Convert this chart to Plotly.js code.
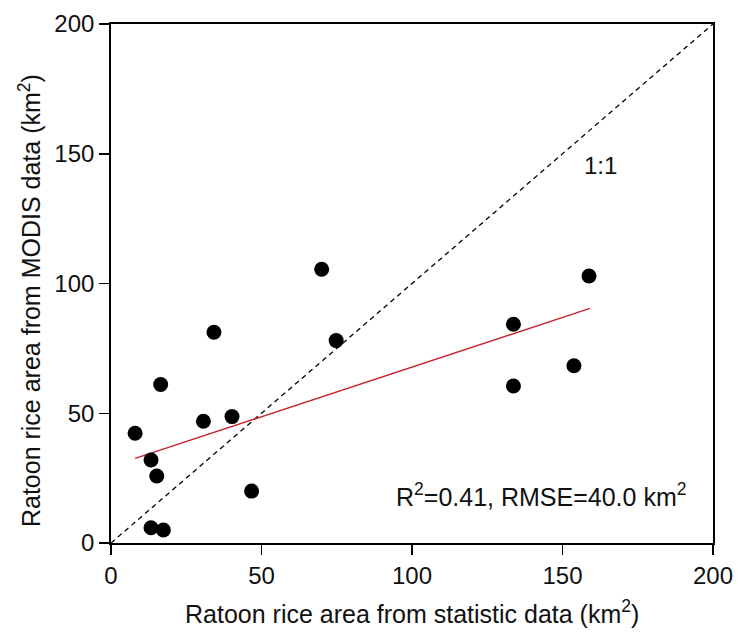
<!DOCTYPE html>
<html>
<head>
<meta charset="utf-8">
<script src="https://cdn.plot.ly/plotly-3.0.1.min.js"></script>
<style>html,body{margin:0;padding:0;background:#fff;}#chart{width:738px;height:633px;}</style>
</head>
<body>
<div id="chart"></div>
<script>
var statArea = [70.0, 158.8, 133.7, 153.8, 133.7, 34.2, 74.8, 16.5, 30.7, 40.2, 8.0, 13.3, 15.2, 46.7, 13.3, 17.4];
var modisArea = [105.5, 102.9, 84.3, 68.3, 60.5, 81.2, 78.0, 61.1, 46.9, 48.7, 42.3, 32.0, 25.8, 20.0, 5.9, 5.0];
var fitX = [8.0, 159.1];
var fitY = [32.6, 90.4];
var oneToOneX = [0, 200];
var oneToOneY = [0, 200];
var tickVals = [0, 50, 100, 150, 200];

var font = "'Liberation Sans', Arial, sans-serif";

var traces = [
  {x: oneToOneX, y: oneToOneY, mode: 'lines', line: {color: '#000', width: 1.3, dash: '5px,4px'}, hoverinfo: 'skip'},
  {x: fitX, y: fitY, mode: 'lines', line: {color: '#c8202e', width: 1.4}, hoverinfo: 'skip'},
  {x: statArea, y: modisArea, mode: 'markers', marker: {color: '#000', size: 15}}
];

var axisBase = {
  range: [0, 200], tickvals: tickVals, ticks: 'outside', ticklen: 10, tickwidth: 1.5, tickcolor: '#000',
  showline: true, linecolor: '#000', linewidth: 1.8, mirror: true, showgrid: false, zeroline: false,
  tickfont: {family: font, size: 24, color: '#111'}, fixedrange: true
};

var layout = {
  width: 738, height: 633,
  margin: {l: 111, r: 25, t: 24, b: 90},
  paper_bgcolor: '#fff', plot_bgcolor: '#fff',
  showlegend: false,
  xaxis: Object.assign({}, axisBase, {title: {text: ''}}),
  yaxis: Object.assign({}, axisBase, {title: {text: ''}}),
  annotations: [
    {text: 'Ratoon rice area from MODIS data (km<sup>2</sup>)', xref: 'paper', yref: 'paper', x: -0.1346, y: 0.468, textangle: -90,
     showarrow: false, xanchor: 'center', yanchor: 'middle', font: {family: font, size: 25, color: '#111'}},
    {text: 'Ratoon rice area from statistic data (km<sup>2</sup>)', xref: 'paper', yref: 'paper', x: 0.5, y: -0.133,
     showarrow: false, xanchor: 'center', yanchor: 'middle', font: {family: font, size: 25, color: '#111'}},
    {text: '1:1', x: 162.5, y: 145.5, xref: 'x', yref: 'y', showarrow: false, font: {family: font, size: 24, color: '#111'}},
    {text: 'R<sup>2</sup>=0.41, RMSE=40.0 km<sup>2</sup>', x: 143, y: 18.5, xref: 'x', yref: 'y', showarrow: false,
     font: {family: font, size: 25, color: '#111'}}
  ]
};

Plotly.newPlot('chart', traces, layout, {displayModeBar: false, staticPlot: true});
</script>
</body>
</html>
